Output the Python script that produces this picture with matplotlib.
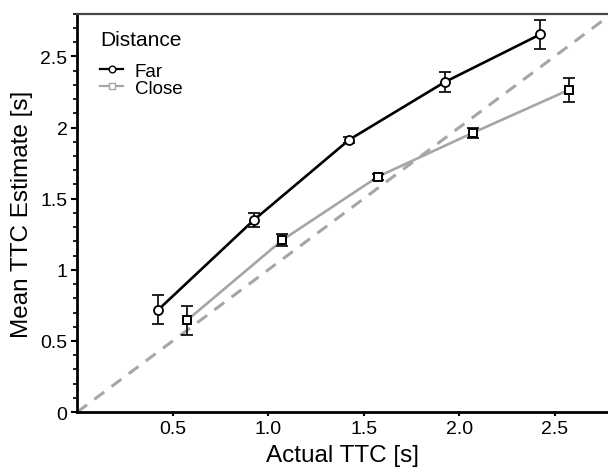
import matplotlib
matplotlib.use("Agg")
import matplotlib.pyplot as plt
from matplotlib.ticker import MultipleLocator, FixedLocator
from matplotlib.lines import Line2D

plt.rcParams['font.family'] = ['Liberation Sans', 'DejaVu Sans']

# --- data ---
far_x = [0.425, 0.925, 1.425, 1.925, 2.425]
far_y = [0.72, 1.35, 1.915, 2.32, 2.655]
far_err = [0.10, 0.05, 0.02, 0.07, 0.10]

close_x = [0.575, 1.075, 1.575, 2.075, 2.575]
close_y = [0.645, 1.21, 1.655, 1.965, 2.265]
close_err = [0.10, 0.045, 0.02, 0.035, 0.085]

x_ticks = [0.5, 1.0, 1.5, 2.0, 2.5]
x_tick_labels = ["0.5", "1.0", "1.5", "2.0", "2.5"]
y_ticks = [0, 0.5, 1, 1.5, 2, 2.5]
y_tick_labels = ["0", "0.5", "1", "1.5", "2", "2.5"]

GREY = "#a6a6a6"

fig = plt.figure(figsize=(6.08, 4.77), dpi=100)
ax = fig.add_axes([0.127, 0.134, 0.873, 0.835])

# diagonal y = x
ax.plot([0, 3], [0, 3], color=GREY, lw=2.2, ls=(0, (4, 3)), zorder=1)

# lines
ax.plot(far_x, far_y, color="black", lw=1.9, zorder=2)
ax.plot(close_x, close_y, color=GREY, lw=1.9, zorder=2)

# error bars
ax.errorbar(far_x, far_y, yerr=far_err, fmt="none", ecolor="#111111",
            elinewidth=1.3, capsize=4, capthick=1.3, zorder=3)
ax.errorbar(close_x, close_y, yerr=close_err, fmt="none", ecolor="#111111",
            elinewidth=1.3, capsize=4, capthick=1.3, zorder=3)

# markers
ax.plot(far_x, far_y, ls="none", marker="o", ms=6.5, mfc="white",
        mec="black", mew=1.3, zorder=4)
ax.plot(close_x, close_y, ls="none", marker="s", ms=5.5, mfc="white",
        mec="black", mew=1.4, zorder=4)

ax.set_xlim(0, 2.78)
ax.set_ylim(0, 2.8)

ax.xaxis.set_major_locator(FixedLocator(x_ticks))
ax.set_xticklabels(x_tick_labels)
ax.yaxis.set_major_locator(FixedLocator(y_ticks))
ax.set_yticklabels(y_tick_labels)
ax.yaxis.set_minor_locator(MultipleLocator(0.1))

ax.tick_params(axis="both", which="major", labelsize=14, width=1.5,
               length=4, direction="out", color="black", pad=3)
ax.tick_params(axis="y", which="minor", width=1.2, length=3)
ax.tick_params(axis="x", which="major", length=3)

for side in ["left", "bottom"]:
    ax.spines[side].set_linewidth(2)
    ax.spines[side].set_color("black")
ax.spines["top"].set_linewidth(1.6)
ax.spines["top"].set_color("#444444")
ax.spines["right"].set_visible(False)

ax.set_xlabel("Actual TTC [s]", fontsize=17.5, labelpad=5)
ax.set_ylabel("Mean TTC Estimate [s]", fontsize=17.5, labelpad=5)

handles = [
    Line2D([], [], color="black", lw=1.6, marker="o", ms=4.8, mfc="white", mec="black", mew=1),
    Line2D([], [], color=GREY, lw=1.6, marker="s", ms=4.2, mfc="white", mec=GREY, mew=1),
]
leg = ax.legend(handles, ["Far", "Close"], title="Distance", loc="upper left",
                bbox_to_anchor=(0.043, 0.96), borderaxespad=0, borderpad=0,
                frameon=False, fontsize=13.5, title_fontsize=15,
                handlelength=1.25, handletextpad=0.6, labelspacing=0.0)
leg._legend_box.align = "left"
leg._legend_box.sep = 10

fig.savefig("out.png", dpi=100)
